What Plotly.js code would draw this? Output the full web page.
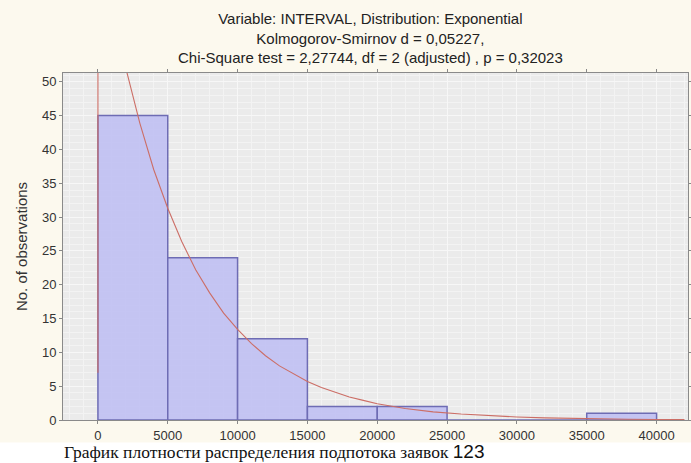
<!DOCTYPE html>
<html>
<head>
<meta charset="utf-8">
<script src="https://cdn.plot.ly/plotly-3.0.1.min.js"></script>
<style>
  html, body { margin: 0; padding: 0; background: #ffffff; }
  #chart { width: 691px; height: 463px; }
</style>
</head>
<body>
<div id="chart"></div>
<script>
// Histogram of INTERVAL: class starts (width 5000) and observed counts
const binStarts = [0, 5000, 10000, 15000, 20000, 25000, 30000, 35000];
const binWidth = 5000;
const counts = [45, 24, 12, 2, 2, 0, 0, 1];

// Fitted exponential curve (expected counts per class)
const curveX = [0, 0, 1000, 2000, 3000, 4000, 5000, 6000, 7000, 8000, 9000, 10000,
  11000, 12000, 13000, 14000, 15000, 16000, 17000, 18000, 19000, 20000, 22000,
  24000, 26000, 28000, 30000, 32000, 34000, 36000, 38000, 40000, 42000];
const curveY = [7, 73.1, 61.7, 52.0, 43.9, 37.0, 31.3, 26.4, 22.2, 18.8, 15.8, 13.4,
  11.3, 9.5, 8.0, 6.8, 5.7, 4.8, 4.1, 3.4, 2.9, 2.4, 1.7,
  1.2, 0.88, 0.63, 0.45, 0.32, 0.23, 0.16, 0.11, 0.08, 0.06];

const xTicks = [0, 5000, 10000, 15000, 20000, 25000, 30000, 35000, 40000];
const yTicks = [0, 5, 10, 15, 20, 25, 30, 35, 40, 45, 50];

const titleLines = [
  'Variable: INTERVAL, Distribution: Exponential',
  'Kolmogorov-Smirnov d = 0,05227,',
  'Chi-Square test = 2,27744, df = 2 (adjusted) , p = 0,32023'
];
const yTitle = 'No. of observations';
const caption = 'График плотности распределения подпотока заявок';
const captionNum = '123';

const barCenters = binStarts.map(s => s + binWidth / 2);

const traces = [
  {
    type: 'bar',
    x: barCenters,
    y: counts,
    width: binWidth,
    marker: {
      color: 'rgba(194,194,242,0.95)',
      line: { color: '#6e6cb4', width: 1.5 }
    },
    hoverinfo: 'x+y'
  },
  {
    type: 'scatter',
    mode: 'lines',
    x: curveX,
    y: curveY,
    line: { color: '#cc6e66', width: 1.1 },
    hoverinfo: 'x+y'
  }
];

const sans = '"Liberation Sans", Arial, sans-serif';

const layout = {
  width: 691,
  height: 463,
  margin: { l: 63, r: 3, t: 73, b: 43, pad: 0 },
  paper_bgcolor: '#fcf9ee',
  plot_bgcolor: '#ebebeb',
  showlegend: false,
  bargap: 0,
  title: {
    text: titleLines.join('<br>'),
    font: { family: sans, size: 15, color: '#222222' },
    xref: 'container', yref: 'container',
    x: 0.536, xanchor: 'center',
    y: 0.948, yanchor: 'top'
  },
  xaxis: {
    range: [-2500, 42250],
    tickvals: xTicks,
    ticktext: xTicks.map(String),
    ticks: 'outside', ticklen: 3, tickcolor: '#888888',
    tickfont: { family: sans, size: 13, color: '#333333' },
    showline: true, linecolor: '#8a8a8a', linewidth: 1, mirror: 'ticks',
    showgrid: true, gridcolor: '#f7f7f7', gridwidth: 1,
    minor: { dtick: 1000, tick0: 0, showgrid: true, gridcolor: '#f3f3f3', gridwidth: 1 },
    zeroline: false,
    fixedrange: true
  },
  yaxis: {
    range: [0, 51.3],
    tickvals: yTicks,
    ticktext: yTicks.map(String),
    ticks: 'outside', ticklen: 3, tickcolor: '#888888',
    tickfont: { family: sans, size: 13, color: '#333333' },
    showline: true, linecolor: '#8a8a8a', linewidth: 1, mirror: 'ticks',
    showgrid: true, gridcolor: '#f7f7f7', gridwidth: 1,
    minor: { dtick: 1, tick0: 0, showgrid: true, gridcolor: '#f3f3f3', gridwidth: 1 },
    zeroline: false,
    title: { text: yTitle, font: { family: sans, size: 15, color: '#333333' }, standoff: 10 },
    fixedrange: true
  },
  shapes: [
    {
      type: 'rect', xref: 'paper', yref: 'paper', layer: 'below',
      x0: -0.12, x1: 1.02, y0: -0.065, y1: -0.13,
      fillcolor: '#ffffff', line: { width: 0 }
    }
  ],
  annotations: [
    {
      xref: 'paper', yref: 'paper',
      x: -0.002, y: -0.127, xanchor: 'left', yanchor: 'bottom',
      showarrow: false,
      text: caption + ' <span style="font-family:\'Liberation Sans\', Arial, sans-serif;font-size:19px">' + captionNum + '</span>',
      font: { family: '"Liberation Serif", "Times New Roman", serif', size: 17.5, color: '#111111' }
    }
  ]
};

Plotly.newPlot('chart', traces, layout, { displayModeBar: false, staticPlot: true });
</script>
</body>
</html>
